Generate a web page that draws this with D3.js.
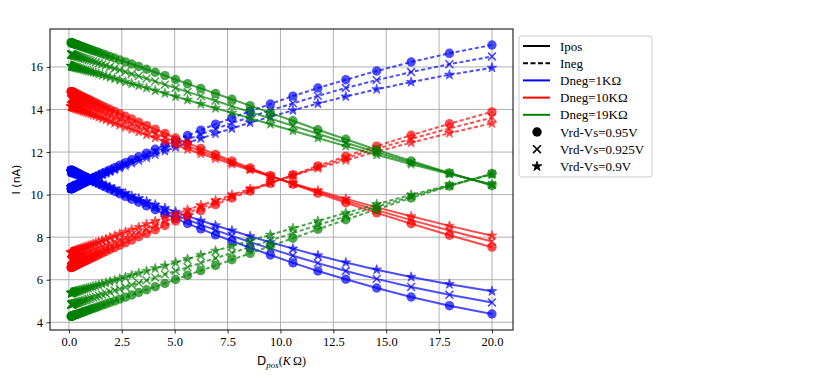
<!DOCTYPE html>
<html>
<head>
<meta charset="utf-8">
<script src="https://cdn.jsdelivr.net/npm/d3@7"></script>
<style>
  body { margin: 0; background: #fff; }
  svg { display: block; }
  .tick text { font-family: "Liberation Serif", "DejaVu Serif", serif; font-size: 12.5px; fill: #000; }
  .grid line { stroke: #b0b0b0; stroke-width: 1; }
  .legend text { font-family: "Liberation Serif", "DejaVu Serif", serif; font-size: 13px; }
</style>
</head>
<body>
<div id="chart"></div>
<script>
// Dpos values (KOhm), 51 points, denser near zero
var dpos = [0.1, 0.111, 0.124, 0.137, 0.153, 0.170, 0.189, 0.210, 0.233, 0.260,
    0.289, 0.321, 0.357, 0.397, 0.441, 0.490, 0.545, 0.606, 0.674, 0.749,
    0.833, 0.926, 1.029, 1.144, 1.272, 1.414, 1.572, 1.748, 1.943, 2.161,
    2.402, 2.671, 2.969, 3.301, 3.670, 4.081, 4.537, 5.044, 5.608, 6.234,
    6.931, 7.706, 8.567, 9.525, 10.59, 11.77, 13.09, 14.55, 16.18, 17.99, 20.0];

// Dneg = 1K
var ipos1_095 = [11.15, 11.15, 11.14, 11.13, 11.13, 11.12, 11.11, 11.10, 11.09, 11.07, 11.06, 11.04, 11.03, 11.01, 10.98, 10.96, 10.93, 10.90, 10.87, 10.83, 10.79, 10.75, 10.70, 10.64, 10.58, 10.51, 10.43, 10.35, 10.26, 10.16, 10.04, 9.92, 9.78, 9.64, 9.47, 9.29, 9.09, 8.88, 8.64, 8.39, 8.11, 7.82, 7.50, 7.16, 6.79, 6.41, 6.02, 5.61, 5.19, 4.78, 4.39];
var ineg1_095 = [10.27, 10.27, 10.28, 10.29, 10.29, 10.30, 10.31, 10.32, 10.33, 10.35, 10.36, 10.38, 10.39, 10.41, 10.44, 10.46, 10.49, 10.52, 10.55, 10.59, 10.63, 10.67, 10.72, 10.78, 10.84, 10.91, 10.99, 11.07, 11.16, 11.26, 11.38, 11.50, 11.64, 11.78, 11.95, 12.13, 12.33, 12.54, 12.78, 13.03, 13.31, 13.60, 13.92, 14.26, 14.63, 15.01, 15.40, 15.81, 16.23, 16.64, 17.03];
var ipos1_0925 = [11.12, 11.11, 11.11, 11.10, 11.09, 11.08, 11.08, 11.07, 11.06, 11.04, 11.03, 11.02, 11.00, 10.98, 10.96, 10.94, 10.91, 10.89, 10.86, 10.82, 10.78, 10.74, 10.70, 10.65, 10.59, 10.53, 10.46, 10.38, 10.30, 10.20, 10.10, 9.99, 9.86, 9.73, 9.58, 9.41, 9.23, 9.03, 8.82, 8.59, 8.33, 8.06, 7.77, 7.46, 7.13, 6.78, 6.41, 6.04, 5.66, 5.29, 4.93];
var ineg1_0925 = [10.30, 10.31, 10.31, 10.32, 10.33, 10.34, 10.34, 10.35, 10.37, 10.38, 10.39, 10.40, 10.42, 10.44, 10.46, 10.48, 10.51, 10.53, 10.56, 10.60, 10.64, 10.68, 10.72, 10.77, 10.83, 10.89, 10.96, 11.04, 11.12, 11.22, 11.32, 11.43, 11.56, 11.69, 11.84, 12.01, 12.19, 12.39, 12.60, 12.83, 13.09, 13.36, 13.65, 13.96, 14.29, 14.64, 15.01, 15.38, 15.76, 16.13, 16.49];
var ipos1_09 = [11.08, 11.07, 11.07, 11.06, 11.06, 11.05, 11.04, 11.03, 11.02, 11.01, 11.00, 10.99, 10.97, 10.96, 10.94, 10.92, 10.89, 10.87, 10.84, 10.81, 10.78, 10.74, 10.70, 10.65, 10.60, 10.54, 10.48, 10.41, 10.34, 10.25, 10.16, 10.06, 9.94, 9.82, 9.68, 9.53, 9.37, 9.19, 8.99, 8.78, 8.55, 8.31, 8.04, 7.76, 7.46, 7.14, 6.81, 6.47, 6.13, 5.79, 5.46];
var ineg1_09 = [10.34, 10.35, 10.35, 10.36, 10.36, 10.37, 10.38, 10.39, 10.40, 10.41, 10.42, 10.43, 10.45, 10.46, 10.48, 10.50, 10.53, 10.55, 10.58, 10.61, 10.64, 10.68, 10.72, 10.77, 10.82, 10.88, 10.94, 11.01, 11.08, 11.17, 11.26, 11.36, 11.48, 11.60, 11.74, 11.89, 12.05, 12.23, 12.43, 12.64, 12.87, 13.11, 13.38, 13.66, 13.96, 14.28, 14.61, 14.95, 15.29, 15.63, 15.96];

// Dneg = 10K
var ipos10_095 = [14.85, 14.84, 14.84, 14.83, 14.82, 14.82, 14.81, 14.80, 14.79, 14.78, 14.76, 14.75, 14.73, 14.71, 14.69, 14.67, 14.64, 14.61, 14.58, 14.55, 14.51, 14.47, 14.42, 14.37, 14.31, 14.24, 14.17, 14.09, 14.00, 13.91, 13.80, 13.68, 13.55, 13.40, 13.24, 13.07, 12.87, 12.66, 12.42, 12.17, 11.89, 11.58, 11.25, 10.89, 10.49, 10.07, 9.62, 9.14, 8.63, 8.09, 7.53];
var ineg10_095 = [6.57, 6.58, 6.58, 6.59, 6.60, 6.60, 6.61, 6.62, 6.63, 6.65, 6.66, 6.67, 6.69, 6.71, 6.73, 6.75, 6.78, 6.81, 6.84, 6.87, 6.91, 6.95, 7.00, 7.05, 7.11, 7.18, 7.25, 7.33, 7.42, 7.51, 7.62, 7.74, 7.87, 8.02, 8.18, 8.35, 8.55, 8.76, 9.00, 9.25, 9.53, 9.84, 10.17, 10.53, 10.93, 11.35, 11.80, 12.28, 12.79, 13.33, 13.89];
var ipos10_0925 = [14.50, 14.49, 14.49, 14.48, 14.48, 14.47, 14.46, 14.45, 14.44, 14.43, 14.42, 14.40, 14.39, 14.37, 14.35, 14.33, 14.31, 14.28, 14.25, 14.22, 14.19, 14.15, 14.10, 14.06, 14.00, 13.94, 13.88, 13.80, 13.72, 13.63, 13.54, 13.43, 13.31, 13.17, 13.03, 12.87, 12.69, 12.49, 12.28, 12.04, 11.79, 11.51, 11.20, 10.87, 10.51, 10.13, 9.71, 9.27, 8.80, 8.31, 7.80];
var ineg10_0925 = [6.92, 6.93, 6.93, 6.94, 6.94, 6.95, 6.96, 6.97, 6.98, 6.99, 7.00, 7.02, 7.03, 7.05, 7.07, 7.09, 7.11, 7.14, 7.17, 7.20, 7.23, 7.27, 7.32, 7.36, 7.42, 7.48, 7.54, 7.62, 7.70, 7.79, 7.88, 7.99, 8.11, 8.25, 8.39, 8.55, 8.73, 8.93, 9.14, 9.38, 9.63, 9.91, 10.22, 10.55, 10.91, 11.29, 11.71, 12.15, 12.62, 13.11, 13.62];
var ipos10_09 = [14.15, 14.14, 14.14, 14.13, 14.13, 14.12, 14.11, 14.10, 14.09, 14.08, 14.07, 14.06, 14.05, 14.03, 14.01, 14.00, 13.97, 13.95, 13.92, 13.90, 13.86, 13.83, 13.79, 13.74, 13.70, 13.64, 13.58, 13.52, 13.44, 13.36, 13.27, 13.17, 13.07, 12.95, 12.81, 12.67, 12.50, 12.33, 12.13, 11.92, 11.69, 11.43, 11.16, 10.86, 10.53, 10.18, 9.81, 9.40, 8.98, 8.53, 8.07];
var ineg10_09 = [7.27, 7.28, 7.28, 7.29, 7.29, 7.30, 7.31, 7.32, 7.33, 7.34, 7.35, 7.36, 7.37, 7.39, 7.41, 7.42, 7.45, 7.47, 7.50, 7.52, 7.56, 7.59, 7.63, 7.68, 7.72, 7.78, 7.84, 7.90, 7.98, 8.06, 8.15, 8.25, 8.35, 8.47, 8.61, 8.75, 8.92, 9.09, 9.29, 9.50, 9.73, 9.99, 10.26, 10.56, 10.89, 11.24, 11.61, 12.02, 12.44, 12.89, 13.35];

// Dneg = 19K
var ipos19_095 = [17.14, 17.14, 17.13, 17.13, 17.12, 17.12, 17.11, 17.10, 17.09, 17.08, 17.07, 17.06, 17.05, 17.04, 17.02, 17.00, 16.98, 16.96, 16.94, 16.91, 16.88, 16.85, 16.81, 16.77, 16.73, 16.68, 16.62, 16.56, 16.49, 16.42, 16.33, 16.24, 16.14, 16.02, 15.89, 15.75, 15.59, 15.41, 15.21, 14.99, 14.75, 14.48, 14.18, 13.84, 13.47, 13.05, 12.60, 12.11, 11.58, 11.02, 10.43];
var ineg19_095 = [4.28, 4.28, 4.29, 4.29, 4.30, 4.30, 4.31, 4.32, 4.33, 4.34, 4.35, 4.36, 4.37, 4.38, 4.40, 4.42, 4.44, 4.46, 4.48, 4.51, 4.54, 4.57, 4.61, 4.65, 4.69, 4.74, 4.80, 4.86, 4.93, 5.00, 5.09, 5.18, 5.28, 5.40, 5.53, 5.67, 5.83, 6.01, 6.21, 6.43, 6.67, 6.94, 7.24, 7.58, 7.95, 8.37, 8.82, 9.31, 9.84, 10.40, 10.99];
var ipos19_0925 = [16.59, 16.59, 16.59, 16.58, 16.58, 16.57, 16.57, 16.56, 16.55, 16.54, 16.53, 16.52, 16.51, 16.50, 16.48, 16.47, 16.45, 16.43, 16.41, 16.39, 16.36, 16.33, 16.30, 16.26, 16.22, 16.17, 16.12, 16.07, 16.00, 15.93, 15.86, 15.77, 15.67, 15.57, 15.45, 15.32, 15.17, 15.01, 14.83, 14.63, 14.41, 14.16, 13.88, 13.58, 13.23, 12.86, 12.44, 11.99, 11.51, 11.00, 10.45];
var ineg19_0925 = [4.83, 4.83, 4.83, 4.84, 4.84, 4.85, 4.85, 4.86, 4.87, 4.88, 4.89, 4.90, 4.91, 4.92, 4.94, 4.95, 4.97, 4.99, 5.01, 5.03, 5.06, 5.09, 5.12, 5.16, 5.20, 5.25, 5.30, 5.35, 5.42, 5.49, 5.56, 5.65, 5.75, 5.85, 5.97, 6.10, 6.25, 6.41, 6.59, 6.79, 7.01, 7.26, 7.54, 7.85, 8.19, 8.57, 8.98, 9.43, 9.91, 10.42, 10.97];
var ipos19_09 = [16.05, 16.04, 16.04, 16.04, 16.03, 16.03, 16.02, 16.01, 16.01, 16.00, 15.99, 15.98, 15.97, 15.96, 15.95, 15.93, 15.92, 15.90, 15.88, 15.86, 15.83, 15.81, 15.78, 15.74, 15.71, 15.67, 15.62, 15.57, 15.51, 15.45, 15.38, 15.30, 15.21, 15.12, 15.01, 14.89, 14.76, 14.61, 14.45, 14.26, 14.06, 13.84, 13.59, 13.31, 13.00, 12.66, 12.28, 11.87, 11.43, 10.97, 10.48];
var ineg19_09 = [5.37, 5.38, 5.38, 5.38, 5.39, 5.39, 5.40, 5.41, 5.41, 5.42, 5.43, 5.44, 5.45, 5.46, 5.47, 5.49, 5.50, 5.52, 5.54, 5.56, 5.59, 5.61, 5.64, 5.68, 5.71, 5.75, 5.80, 5.85, 5.91, 5.97, 6.04, 6.12, 6.21, 6.30, 6.41, 6.53, 6.66, 6.81, 6.97, 7.16, 7.36, 7.58, 7.83, 8.11, 8.42, 8.76, 9.14, 9.55, 9.99, 10.45, 10.94];

var xTicks = [0, 2.5, 5, 7.5, 10, 12.5, 15, 17.5, 20];
var yTicks = [4, 6, 8, 10, 12, 14, 16];

var dnegLabels = ["Dneg=1K\u03A9", "Dneg=10K\u03A9", "Dneg=19K\u03A9"];
var vrdLabels = ["Vrd-Vs=0.95V", "Vrd-Vs=0.925V", "Vrd-Vs=0.9V"];

// Define SVG area dimensions
var svgWidth = 830;
var svgHeight = 379;

var chartMargin = { top: 29, right: 317, bottom: 49, left: 50 };
var width = svgWidth - chartMargin.left - chartMargin.right;
var height = svgHeight - chartMargin.top - chartMargin.bottom;

var colors = ["#0000ff", "#ff0000", "#008000"];
var markers = ["circle", "x", "star"];

// one entry per plotted line
var series = [
    { dneg: 0, vrd: 0, kind: "pos", y: ipos1_095 }, { dneg: 0, vrd: 0, kind: "neg", y: ineg1_095 },
    { dneg: 0, vrd: 1, kind: "pos", y: ipos1_0925 }, { dneg: 0, vrd: 1, kind: "neg", y: ineg1_0925 },
    { dneg: 0, vrd: 2, kind: "pos", y: ipos1_09 }, { dneg: 0, vrd: 2, kind: "neg", y: ineg1_09 },
    { dneg: 1, vrd: 0, kind: "pos", y: ipos10_095 }, { dneg: 1, vrd: 0, kind: "neg", y: ineg10_095 },
    { dneg: 1, vrd: 1, kind: "pos", y: ipos10_0925 }, { dneg: 1, vrd: 1, kind: "neg", y: ineg10_0925 },
    { dneg: 1, vrd: 2, kind: "pos", y: ipos10_09 }, { dneg: 1, vrd: 2, kind: "neg", y: ineg10_09 },
    { dneg: 2, vrd: 0, kind: "pos", y: ipos19_095 }, { dneg: 2, vrd: 0, kind: "neg", y: ineg19_095 },
    { dneg: 2, vrd: 1, kind: "pos", y: ipos19_0925 }, { dneg: 2, vrd: 1, kind: "neg", y: ineg19_0925 },
    { dneg: 2, vrd: 2, kind: "pos", y: ipos19_09 }, { dneg: 2, vrd: 2, kind: "neg", y: ineg19_09 }
];

var svg = d3.select("#chart")
    .append("svg")
    .attr("width", svgWidth)
    .attr("height", svgHeight);

var chartGroup = svg.append("g")
    .attr("transform", `translate(${chartMargin.left}, ${chartMargin.top})`);

// Scales (matplotlib-style 5% margins)
var xLinearScale = d3.scaleLinear().domain([-0.895, 20.995]).range([0, width]);
var yLinearScale = d3.scaleLinear().domain([3.637, 17.783]).range([height, 0]);

// Grid
chartGroup.append("g").attr("class", "grid")
    .selectAll("line").data(xTicks).enter().append("line")
    .attr("x1", d => xLinearScale(d)).attr("x2", d => xLinearScale(d))
    .attr("y1", 0).attr("y2", height);
chartGroup.append("g").attr("class", "grid")
    .selectAll("line").data(yTicks).enter().append("line")
    .attr("y1", d => yLinearScale(d)).attr("y2", d => yLinearScale(d))
    .attr("x1", 0).attr("x2", width);

// Clip to axes
svg.append("defs").append("clipPath").attr("id", "clip")
    .append("rect").attr("width", width).attr("height", height);
var plotGroup = chartGroup.append("g").attr("clip-path", "url(#clip)");

var line = d3.line()
    .x((d, i) => xLinearScale(dpos[i]))
    .y(d => yLinearScale(d));

var starPath = d3.symbol().type(d3.symbolStar).size(30)();

function drawMarker(sel, type, color) {
    if (type === "circle") {
        sel.append("circle").attr("r", 4.7).attr("fill", color);
    } else if (type === "x") {
        sel.append("path").attr("d", "M-3.9,-3.9L3.9,3.9M-3.9,3.9L3.9,-3.9")
            .attr("stroke", color).attr("stroke-width", 1.6).attr("fill", "none");
    } else {
        sel.append("path").attr("d", starPath).attr("fill", color)
            .attr("stroke", color).attr("stroke-width", 0.8);
    }
}

series.forEach(function(s) {
    var color = colors[s.dneg];
    plotGroup.append("path")
        .datum(s.y)
        .attr("d", line)
        .attr("fill", "none")
        .attr("stroke", color)
        .attr("stroke-width", 2)
        .attr("stroke-opacity", 0.7)
        .attr("stroke-dasharray", s.kind === "neg" ? "4,2.5" : null);
    plotGroup.append("g").selectAll("g")
        .data(s.y).enter().append("g")
        .attr("transform", (d, i) => `translate(${xLinearScale(dpos[i])}, ${yLinearScale(d)})`)
        .attr("opacity", 0.7)
        .each(function() { drawMarker(d3.select(this), markers[s.vrd], color); });
});

// Axes
var bottomAxis = d3.axisBottom(xLinearScale).tickValues(xTicks)
    .tickFormat(d3.format(".1f")).tickSize(3.5).tickPadding(3.5);
chartGroup.append("g")
    .attr("transform", `translate(0, ${height})`)
    .call(bottomAxis)
    .call(g => g.select(".domain").remove());
var leftAxis = d3.axisLeft(yLinearScale).tickValues(yTicks)
    .tickFormat(d3.format("d")).tickSize(3.5).tickPadding(3.5);
chartGroup.append("g")
    .call(leftAxis)
    .call(g => g.select(".domain").remove());
chartGroup.selectAll(".tick line").attr("stroke", "#000").attr("stroke-width", 0.8);

chartGroup.append("rect")
    .attr("width", width).attr("height", height)
    .attr("fill", "none").attr("stroke", "#000").attr("stroke-width", 1);

// Axis labels
var xLabel = svg.append("text")
    .attr("x", chartMargin.left + width / 2)
    .attr("y", 365)
    .attr("text-anchor", "middle")
    .attr("font-size", "12px");
xLabel.append("tspan").attr("font-family", "DejaVu Sans, sans-serif").text("D");
xLabel.append("tspan").attr("font-family", "Liberation Serif, serif").attr("font-style", "italic")
    .attr("font-size", "9px").attr("dy", 3).text("pos");
xLabel.append("tspan").attr("font-family", "Liberation Serif, serif").attr("dy", -3).text("(");
xLabel.append("tspan").attr("font-family", "Liberation Serif, serif").attr("font-style", "italic").text("K");
xLabel.append("tspan").attr("font-family", "Liberation Serif, serif").text("\u2009\u03A9)");

svg.append("text")
    .attr("transform", `translate(20, ${chartMargin.top + height / 2}) rotate(-90)`)
    .attr("text-anchor", "middle")
    .attr("font-family", "DejaVu Sans, sans-serif")
    .attr("font-size", "11px")
    .text("I (nA)");

// Legend
var legend = svg.append("g").attr("class", "legend")
    .attr("transform", "translate(519, 36)");
legend.append("rect")
    .attr("width", 133).attr("height", 141).attr("rx", 3)
    .attr("fill", "#fff").attr("stroke", "#cccccc").attr("stroke-width", 1);

var legendItems = [
    { label: "Ipos", type: "line", color: "#000", dash: null },
    { label: "Ineg", type: "line", color: "#000", dash: "5,2.5" },
    { label: dnegLabels[0], type: "line", color: colors[0], dash: null },
    { label: dnegLabels[1], type: "line", color: colors[1], dash: null },
    { label: dnegLabels[2], type: "line", color: colors[2], dash: null },
    { label: vrdLabels[0], type: "circle", color: "#000" },
    { label: vrdLabels[1], type: "x", color: "#000" },
    { label: vrdLabels[2], type: "star", color: "#000" }
];

var rowH = 17.2;
legendItems.forEach(function(item, i) {
    var y = 10 + i * rowH;
    if (item.type === "line") {
        legend.append("line")
            .attr("x1", 4).attr("x2", 31).attr("y1", y).attr("y2", y)
            .attr("stroke", item.color).attr("stroke-width", 2)
            .attr("stroke-dasharray", item.dash);
    } else {
        var g = legend.append("g").attr("transform", `translate(18, ${y})`);
        drawMarker(g, item.type, item.color);
    }
    legend.append("text")
        .attr("x", 41).attr("y", y + 4.5)
        .text(item.label);
});
</script>
</body>
</html>
